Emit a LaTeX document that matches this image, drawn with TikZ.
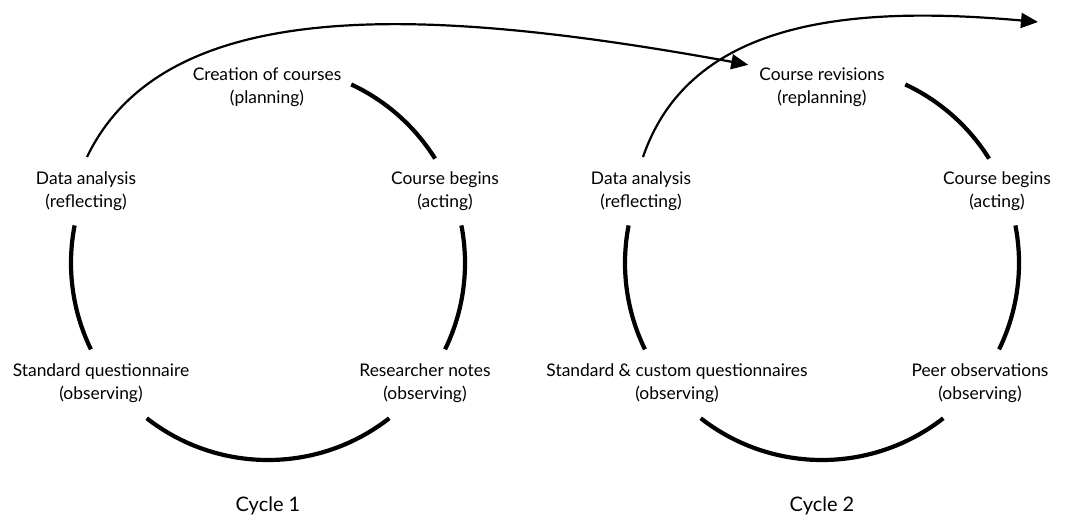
\documentclass[tikz,border=0pt]{standalone}
\usepackage{fontspec}
\setmainfont{Lato}
\usetikzlibrary{arrows.meta}

\tikzset{
  stage/.style={align=center, inner sep=1pt, font=\fontsize{17.4}{22.5}\selectfont},
  cycletitle/.style={font=\fontsize{20}{24}\selectfont},
  cyc/.style={line width=4.2pt},
  flow/.style={line width=2.2pt, -{Triangle[length=17pt,width=15pt]}}
}

\begin{document}
\begin{tikzpicture}[x=1pt,y=-1pt]
  \useasboundingbox (0,0) rectangle (1073,525);

  % cycle 1
  \coordinate (c1) at (268,263);
  \node[stage] (cc1) at (267,87) {Creation of courses\\(planning)};
  \node[stage] (da1) at (86,191) {Data analysis\\(reflecting)};
  \node[stage] (cb1) at (445,191) {Course begins\\(acting)};
  \node[stage] (sq1) at (101,383) {Standard questionnaire\\(observing)};
  \node[stage] (rn1) at (425,383) {Researcher notes\\(observing)};
  \node[cycletitle] (cy1) at (268,506) {Cycle 1};
  \draw[cyc] (c1) ++(32:197pt) arc[start angle=32, end angle=65, radius=197pt];
  \draw[cyc] (c1) ++(-26:197pt) arc[start angle=-26, end angle=11, radius=197pt];
  \draw[cyc] (c1) ++(232:197pt) arc[start angle=232, end angle=308, radius=197pt];
  \draw[cyc] (c1) ++(169:197pt) arc[start angle=169, end angle=206, radius=197pt];

  % cycle 2
  \coordinate (c2) at (822,263);
  \node[stage] (cr2) at (822,87) {Course revisions\\(replanning)};
  \node[stage] (da2) at (641,191) {Data analysis\\(reflecting)};
  \node[stage] (cb2) at (997,191) {Course begins\\(acting)};
  \node[stage] (sq2) at (677,383) {Standard \& custom questionnaires\\(observing)};
  \node[stage] (po2) at (980,383) {Peer observations\\(observing)};
  \node[cycletitle] (cy2) at (822,506) {Cycle 2};
  \draw[cyc] (c2) ++(32:197pt) arc[start angle=32, end angle=65, radius=197pt];
  \draw[cyc] (c2) ++(-26:197pt) arc[start angle=-26, end angle=11, radius=197pt];
  \draw[cyc] (c2) ++(232:197pt) arc[start angle=232, end angle=308, radius=197pt];
  \draw[cyc] (c2) ++(169:197pt) arc[start angle=169, end angle=206, radius=197pt];

  % links between cycles
  \coordinate (s1) at (87,157);
  \coordinate (s2) at (643,157);
  \coordinate (next) at (1038,22);
  \draw[flow, shorten >=10pt] (s1) .. controls (165,-5) and (420,5) .. (cr2.north west);
  \draw[flow] (s2) .. controls (690,20) and (850,5) .. (next);
\end{tikzpicture}
\end{document}
